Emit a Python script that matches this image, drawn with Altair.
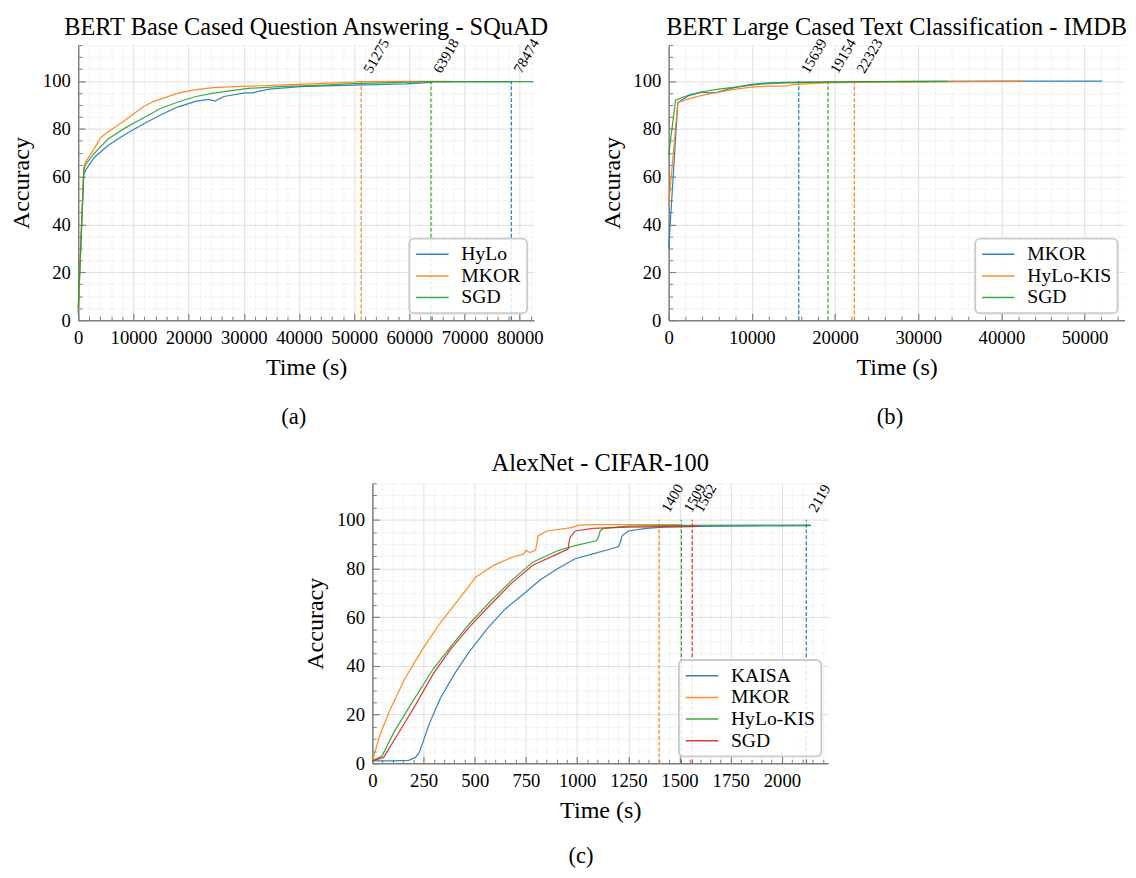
import altair as alt
import pandas as pd

FONT = "Liberation Serif"
BLUE, ORANGE, GREEN, RED = "#1f77b4", "#ff7f0e", "#2ca02c", "#d62728"

# ---------------- (a) BERT Base Cased Question Answering - SQuAD ----------------
a_hylo_t = [0, 1000, 1300, 2900, 5400, 8600, 11800, 14900, 18100, 21300, 23500, 24800,
            26400, 30200, 31500, 34600, 40300, 49900, 59400, 62600, 64500, 70000, 78474]
a_hylo_y = [3, 61, 62.5, 68, 73, 77.8, 82, 85.8, 89.2, 91.5, 92.3, 91.6,
            93.5, 95, 95, 96.6, 97.6, 98.3, 98.8, 99.2, 99.6, 99.7, 99.7]
a_mkor_t = [0, 1000, 1300, 2900, 4100, 5400, 8600, 11800, 13700, 18100, 21300, 24500,
            30800, 37200, 43500, 49900, 51275, 60000, 67600]
a_mkor_y = [4, 64, 66, 71.7, 76.4, 78.7, 83.8, 89.2, 91.5, 94.9, 96.4, 97.2,
            97.8, 98.4, 98.9, 99.5, 99.7, 99.8, 99.8]
a_sgd_t = [0, 1000, 1300, 2900, 5400, 8600, 11800, 14900, 18100, 21300, 24500, 30800,
           37200, 43500, 49900, 56200, 63918, 70000, 78474, 82500]
a_sgd_y = [5, 62, 65, 69.7, 75.7, 80.5, 84.5, 88.5, 91.2, 93.5, 94.9, 96.9,
           97.7, 98.2, 98.9, 99.3, 99.7, 99.7, 99.7, 99.7]
a_names = ["HyLo", "MKOR", "SGD"]
a_colors = [BLUE, ORANGE, GREEN]
a_mark_t = [51275, 63918, 78474]
a_mark_series = ["MKOR", "SGD", "HyLo"]

# ---------------- (b) BERT Large Cased Text Classification - IMDB ----------------
b_mkor_t = [0, 1100, 2500, 4000, 4900, 5900, 7000, 8500, 10000, 11500, 13000, 15639,
            20000, 30000, 40000, 52100]
b_mkor_y = [30, 91, 94, 95.3, 95.0, 95.2, 96.5, 97.6, 98.6, 99.1, 99.3, 99.5,
            99.6, 99.8, 99.9, 99.9]
b_hylo_t = [0, 1100, 2500, 4000, 5500, 7000, 8500, 10000, 12000, 14000, 15000, 17000,
            19000, 22323, 26000, 30000, 35000, 42700]
b_hylo_y = [48, 91, 92.6, 94, 95, 96, 96.8, 97.4, 97.8, 97.8, 98.6, 98.9,
            99.2, 99.4, 99.5, 99.5, 99.7, 99.8]
b_sgd_t = [0, 830, 2500, 4000, 6000, 8000, 10000, 12000, 15000, 19154, 25000, 33500]
b_sgd_y = [69, 92, 94.2, 95.5, 96.6, 97.4, 98.3, 98.9, 99.3, 99.5, 99.7, 99.8]
b_names = ["MKOR", "HyLo-KIS", "SGD"]
b_colors = [BLUE, ORANGE, GREEN]
b_mark_t = [15639, 19154, 22323]
b_mark_series = ["MKOR", "SGD", "HyLo-KIS"]

# ---------------- (c) AlexNet - CIFAR-100 ----------------
c_kaisa_t = [0, 100, 177, 211, 229, 249, 280, 332, 402, 471, 558, 644, 731, 817, 904,
             990, 1077, 1164, 1202, 1212, 1219, 1250, 1337, 1424, 1600, 1800, 2000, 2142]
c_kaisa_y = [1, 1, 1.2, 2.4, 4.4, 9.2, 16.6, 26.7, 36.8, 45.5, 55, 63, 69, 75.2, 79.9,
             84, 86, 88, 89, 91, 93.4, 95.4, 96.5, 97, 97.3, 97.4, 97.5, 97.6]
c_mkor_t = [0, 38, 90, 159, 246, 332, 419, 470, 506, 592, 679, 740, 750, 770, 797, 805, 809,
            852, 973, 1008, 1100, 1400, 1500]
c_mkor_y = [1, 11.9, 22.6, 34.8, 47, 57.7, 67, 72.5, 76.5, 81.3, 84.5, 86, 87.5, 86.5, 87.6, 91, 93.4,
            95.4, 96.8, 97.8, 98, 98, 98]
c_hylo_t = [0, 47, 107, 194, 298, 384, 471, 575, 679, 783, 904, 990, 1094, 1105, 1112,
            1130, 1250, 1500, 1800, 2142]
c_hylo_y = [1, 3, 13, 25, 38.8, 48, 57, 66.4, 75, 82.6, 87.3, 89.4, 91.4, 93, 95.4,
            96.5, 97.4, 97.7, 97.8, 97.8]
c_sgd_t = [0, 55, 125, 211, 298, 384, 471, 575, 679, 783, 904, 956, 960, 965, 990,
           1077, 1250, 1562, 1600]
c_sgd_y = [1, 2.4, 12, 24, 36.8, 47, 55.7, 65, 73.9, 81.3, 86, 88, 90.5, 92.7, 95.4,
           96.5, 97, 97.3, 97.3]
c_names = ["KAISA", "MKOR", "HyLo-KIS", "SGD"]
c_colors = [BLUE, ORANGE, GREEN, RED]
c_mark_t = [1400, 1509, 1562, 2119]
c_mark_series = ["MKOR", "HyLo-KIS", "SGD", "KAISA"]

# tick values
y_major = [0, 20, 40, 60, 80, 100]
y_minor = [v for v in range(0, 116, 5) if v % 20 != 0]
a_x_major = [0, 10000, 20000, 30000, 40000, 50000, 60000, 70000, 80000]
a_x_minor = [v for v in range(0, 84000, 2000) if v % 10000 != 0]
b_x_major = [0, 10000, 20000, 30000, 40000, 50000]
b_x_minor = [v for v in range(0, 56000, 2000) if v % 10000 != 0]
c_x_major = [0, 250, 500, 750, 1000, 1250, 1500, 1750, 2000]
c_x_minor = [v for v in range(0, 2250, 50) if v % 250 != 0]

W = 464
AXC = "#7f7f7f"


def lines_frame(names, ts, ys):
    rows = []
    for n, tt, yy in zip(names, ts, ys):
        for t, y in zip(tt, yy):
            rows.append({"series": n, "t": t, "acc": y})
    return pd.DataFrame(rows)


def marks_frame(ts, series):
    return pd.DataFrame({"t": ts, "series": series, "lo": [0] * len(ts), "hi": [100] * len(ts)})


def panel(title, df, mdf, names, colors, xmax, xmajor, xminor, toff, h):
    xs = alt.Scale(domain=[0, xmax], nice=False, zero=False)
    ys = alt.Scale(domain=[0, 115], nice=False)
    minor = alt.Chart(df).mark_point(opacity=0).encode(
        x=alt.X("t:Q", scale=xs, axis=alt.Axis(orient="bottom", values=xminor, labels=False, domain=False,
                                                 grid=True, gridColor="#f1f1f1", gridWidth=0.8,
                                                 ticks=True, tickSize=4, offset=-4, tickColor=AXC,
                                                 tickWidth=1, title=None)),
        y=alt.Y("acc:Q", scale=ys, axis=alt.Axis(orient="left", values=y_minor, labels=False, domain=False,
                                                  grid=True, gridColor="#f1f1f1", gridWidth=0.8,
                                                  ticks=True, tickSize=4, offset=-4, tickColor=AXC,
                                                  tickWidth=1, title=None)),
    )
    major = alt.Chart(df).mark_point(opacity=0).encode(
        x=alt.X("t:Q", scale=xs, axis=alt.Axis(orient="bottom", values=xmajor, labels=False, domain=False,
                                                 grid=False, ticks=True, tickSize=7, offset=-7,
                                                 tickColor=AXC, tickWidth=1.2, title=None)),
        y=alt.Y("acc:Q", scale=ys, axis=alt.Axis(orient="left", values=y_major, labels=False, domain=False,
                                                  grid=False, ticks=True, tickSize=7, offset=-7,
                                                  tickColor=AXC, tickWidth=1.2, title=None)),
    )
    lines = alt.Chart(df).mark_line(strokeWidth=1.25, opacity=0.9).encode(
        x=alt.X("t:Q", scale=xs, axis=alt.Axis(orient="bottom", values=xmajor, format="d", title="Time (s)",
                                                 grid=True, gridColor="#dedede", gridWidth=1,
                                                 ticks=False, domain=True, domainColor=AXC, domainWidth=1.5,
                                                 labelFont=FONT, labelFontSize=19, labelColor="black",
                                                 labelPadding=9, labelFlush=False,
                                                 titleFont=FONT, titleFontSize=24.5, titleFontWeight="normal",
                                                 titleColor="black", titlePadding=8)),
        y=alt.Y("acc:Q", scale=ys, axis=alt.Axis(orient="left", values=y_major, format="d", title="Accuracy",
                                                  grid=True, gridColor="#dedede", gridWidth=1,
                                                  ticks=False, domain=True, domainColor=AXC, domainWidth=1.5,
                                                  labelFont=FONT, labelFontSize=19, labelColor="black",
                                                  labelPadding=8, labelFlush=False,
                                                  titleFont=FONT, titleFontSize=24.5, titleFontWeight="normal",
                                                  titleColor="black", titlePadding=9)),
        color=alt.Color("series:N", sort=names, scale=alt.Scale(domain=names, range=colors),
                        legend=alt.Legend(title=None)),
    )
    rules = alt.Chart(mdf).mark_rule(strokeDash=[4, 2], strokeWidth=1.2).encode(
        x=alt.X("t:Q", scale=xs, axis=None),
        y=alt.Y("lo:Q", scale=ys, axis=None),
        y2="hi:Q",
        color=alt.Color("series:N", scale=alt.Scale(domain=names, range=colors), legend=None),
    )
    labels = alt.Chart(mdf).mark_text(angle=300, align="left", baseline="top", dx=11, dy=-6.5,
                                      font=FONT, fontSize=15, color="black").encode(
        x=alt.X("t:Q", scale=xs, axis=None),
        y=alt.Y("hi:Q", scale=ys, axis=None),
        text=alt.Text("t:Q", format="d"),
    )
    return alt.layer(minor, major, rules, lines, labels).resolve_axis(
        x="independent", y="independent").resolve_legend(color="independent").properties(
        width=W, height=h,
        title=alt.Title(title, font=FONT, fontSize=24.8, fontWeight="normal", color="black",
                        anchor="middle", frame="group", offset=toff))


def caption(ch, text, dx, off):
    return alt.vconcat(ch, title=alt.Title(text, orient="bottom", font=FONT, fontSize=23,
                                           fontWeight="normal", color="black", anchor="middle",
                                           offset=off, dx=dx)).resolve_scale(color="independent")


pa = panel("BERT Base Cased Question Answering - SQuAD",
           lines_frame(a_names, [a_hylo_t, a_mkor_t, a_sgd_t], [a_hylo_y, a_mkor_y, a_sgd_y]),
           marks_frame(a_mark_t, a_mark_series), a_names, a_colors, 82600, a_x_major, a_x_minor, -3, 280)
pb = panel("BERT Large Cased Text Classification - IMDB",
           lines_frame(b_names, [b_mkor_t, b_hylo_t, b_sgd_t], [b_mkor_y, b_hylo_y, b_sgd_y]),
           marks_frame(b_mark_t, b_mark_series), b_names, b_colors, 54800, b_x_major, b_x_minor, -3, 280)
pc = panel("AlexNet - CIFAR-100",
           lines_frame(c_names, [c_kaisa_t, c_mkor_t, c_hylo_t, c_sgd_t],
                       [c_kaisa_y, c_mkor_y, c_hylo_y, c_sgd_y]),
           marks_frame(c_mark_t, c_mark_series), c_names, c_colors, 2226, c_x_major, c_x_minor, 6, 285)

top = alt.hconcat(caption(pa, "(a)", 15, 28), caption(pb, "(b)", 27, 28), spacing=50).resolve_scale(
    color="independent")
chart = alt.vconcat(top, caption(pc, "(c)", 13, 24), spacing=22, center=True).resolve_scale(
    color="independent").configure_view(stroke=None).configure_legend(
    orient="bottom-right", offset=7, padding=6, cornerRadius=5, strokeColor="#cccccc", strokeWidth=2,
    fillColor="rgba(255,255,255,0.85)", labelFont=FONT, labelFontSize=20, labelColor="black",
    symbolType="stroke", symbolSize=1090, symbolStrokeWidth=1.5, clipHeight=20, rowPadding=2,
    labelOffset=12
).properties(padding={"left": 0, "top": -1, "right": 0, "bottom": 0})

chart.save("out.html", embed_options={"renderer": "svg", "actions": False})
